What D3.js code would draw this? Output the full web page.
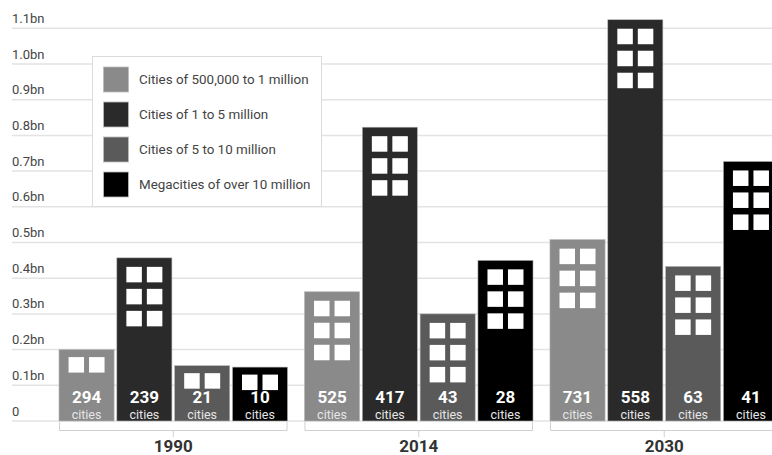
<!DOCTYPE html>
<html>
<head>
<meta charset="utf-8">
<script src="https://cdn.jsdelivr.net/npm/d3@7"></script>
<style>
  html, body { margin: 0; padding: 0; background: #fff; }
  svg { display: block; }
</style>
</head>
<body>
<svg id="chart" width="772" height="455"></svg>
<script>
// ---- data ----
const years = ["1990", "2014", "2030"];
const seriesNames = [
  "Cities of 500,000 to 1 million",
  "Cities of 1 to 5 million",
  "Cities of 5 to 10 million",
  "Megacities of over 10 million"
];
// population (billions) per year, per series
const pop1990 = [0.200, 0.457, 0.155, 0.151];
const pop2014 = [0.362, 0.823, 0.300, 0.450];
const pop2030 = [0.508, 1.124, 0.433, 0.727];
// number of cities per year, per series
const cities1990 = [294, 239, 21, 10];
const cities2014 = [525, 417, 43, 28];
const cities2030 = [731, 558, 63, 41];
const yTicks = [0, 0.1, 0.2, 0.3, 0.4, 0.5, 0.6, 0.7, 0.8, 0.9, 1.0, 1.1];
const yTickLabels = ["0", "0.1bn", "0.2bn", "0.3bn", "0.4bn", "0.5bn", "0.6bn", "0.7bn", "0.8bn", "0.9bn", "1.0bn", "1.1bn"];
const colors = ["#8a8a8a", "#2a2a2a", "#5a5a5a", "#000000"];

const popByYear = { "1990": pop1990, "2014": pop2014, "2030": pop2030 };
const citiesByYear = { "1990": cities1990, "2014": cities2014, "2030": cities2030 };

const rows = [];
years.forEach(yr => {
  seriesNames.forEach((s, i) => {
    rows.push({ year: yr, series: s, idx: i, value: popByYear[yr][i], cities: citiesByYear[yr][i] });
  });
});

// ---- layout ----
const svg = d3.select("#chart");
const font = "Roboto, 'DejaVu Sans', sans-serif";

const y = d3.scaleLinear().domain([0, 1.1]).range([421, 28.3]);
const x0 = d3.scaleBand().domain(years).range([59, 778.5]).paddingInner(0.069).paddingOuter(0);
const x1 = d3.scaleBand().domain(seriesNames).range([0, x0.bandwidth()]).paddingInner(0.047).paddingOuter(0);
const color = d3.scaleOrdinal().domain(seriesNames).range(colors);

// gridlines + y labels
const yAxis = svg.append("g");
yTicks.forEach((t, i) => {
  yAxis.append("line")
    .attr("x1", 12).attr("x2", 772)
    .attr("y1", y(t)).attr("y2", y(t))
    .attr("stroke", "#e3e3e3").attr("stroke-width", 1.5);
  yAxis.append("text")
    .attr("x", 12).attr("y", y(t) - 5.5)
    .attr("font-family", font).attr("font-size", 13)
    .attr("fill", "#444")
    .text(yTickLabels[i]);
});

// legend
const legend = svg.append("g");
legend.append("rect")
  .attr("x", 92.5).attr("y", 56.5).attr("width", 229).attr("height", 150)
  .attr("fill", "#fff").attr("stroke", "#dcdcdc").attr("stroke-width", 1);
seriesNames.forEach((s, i) => {
  const ly = 67 + i * 35;
  legend.append("rect")
    .attr("x", 103.5).attr("y", ly).attr("width", 25).attr("height", 25)
    .attr("fill", color(s)).attr("stroke", "#bbb").attr("stroke-width", 0.8);
  legend.append("text")
    .attr("x", 139).attr("y", ly + 12.5).attr("dy", "0.35em")
    .attr("font-family", font).attr("font-size", 13.4)
    .attr("fill", "#444")
    .text(s);
});

// bars
const groups = svg.append("g").selectAll("g")
  .data(years).join("g")
  .attr("transform", d => `translate(${x0(d)},0)`);

groups.each(function(yr) {
  const g = d3.select(this);
  const data = rows.filter(r => r.year === yr);
  const bw = x1.bandwidth();
  data.forEach(d => {
    const bx = x1(d.series);
    const top = y(d.value);
    const h = y(0) - top;
    g.append("rect")
      .attr("x", bx).attr("y", top)
      .attr("width", bw).attr("height", h)
      .attr("fill", color(d.series))
      .attr("stroke", "#b5b5b5").attr("stroke-width", 0.6);
    // windows
    const nRows = Math.max(1, Math.min(3, Math.floor((h - 40) / 22)));
    const winW = 15.5, winGap = 5;
    const cx = bx + bw / 2;
    const startY = top + (nRows === 1 ? 7.5 : 9);
    for (let r = 0; r < nRows; r++) {
      for (let c = 0; c < 2; c++) {
        g.append("rect")
          .attr("x", cx - winGap / 2 - winW + c * (winW + winGap))
          .attr("y", startY + r * 22)
          .attr("width", winW).attr("height", winW)
          .attr("fill", "#fff");
      }
    }
    // labels
    g.append("text")
      .attr("x", cx).attr("y", 403)
      .attr("text-anchor", "middle")
      .attr("font-family", font).attr("font-weight", "bold").attr("font-size", 17)
      .attr("fill", "#fff")
      .text(d.cities);
    g.append("text")
      .attr("x", cx).attr("y", 418.5)
      .attr("text-anchor", "middle")
      .attr("font-family", font).attr("font-size", 12.5)
      .attr("fill", "#e6e6e6")
      .text("cities");
  });
  // bracket axis
  const w = x0.bandwidth();
  const br = g.append("g").attr("stroke", "#d0d0d0").attr("stroke-width", 1).attr("fill", "none");
  br.append("path").attr("d", `M0.5,422V430.5H${w - 0.5}V422`);
  br.append("line").attr("x1", w / 2).attr("x2", w / 2).attr("y1", 430.5).attr("y2", 437);
  g.append("text")
    .attr("x", w / 2).attr("y", 452)
    .attr("text-anchor", "middle")
    .attr("font-family", font).attr("font-weight", "bold").attr("font-size", 17)
    .attr("fill", "#333")
    .text(yr);
});
</script>
</body>
</html>
